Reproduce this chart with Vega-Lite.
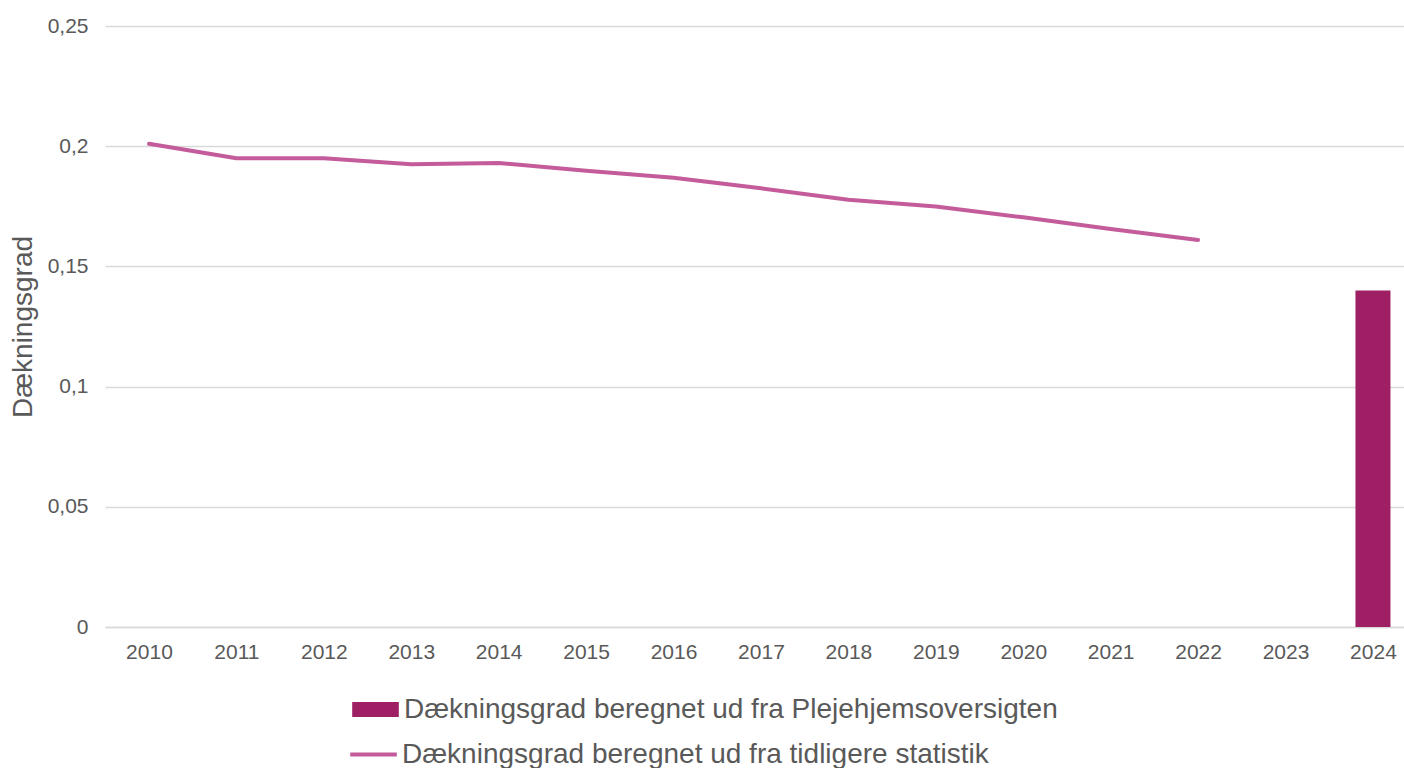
{
  "$schema": "https://vega.github.io/schema/vega-lite/v6.json",
  "autosize": {"type": "none"},
  "width": 1299,
  "height": 601,
  "padding": {"left": 105, "top": 26, "right": 0, "bottom": 141},
  "background": "white",
  "config": {
    "view": {"stroke": null},
    "font": "Liberation Sans",
    "text": {"font": "Liberation Sans"}
  },
  "datasets": {
    "bars": [
      {"year": 2024, "value": 0.14, "serie": "Dækningsgrad beregnet ud fra Plejehjemsoversigten"}
    ],
    "line": [
      {"year": 2010, "value": 0.201, "serie": "Dækningsgrad beregnet ud fra tidligere statistik"},
      {"year": 2011, "value": 0.195, "serie": "Dækningsgrad beregnet ud fra tidligere statistik"},
      {"year": 2012, "value": 0.195, "serie": "Dækningsgrad beregnet ud fra tidligere statistik"},
      {"year": 2013, "value": 0.1925, "serie": "Dækningsgrad beregnet ud fra tidligere statistik"},
      {"year": 2014, "value": 0.193, "serie": "Dækningsgrad beregnet ud fra tidligere statistik"},
      {"year": 2015, "value": 0.1898, "serie": "Dækningsgrad beregnet ud fra tidligere statistik"},
      {"year": 2016, "value": 0.1869, "serie": "Dækningsgrad beregnet ud fra tidligere statistik"},
      {"year": 2017, "value": 0.1825, "serie": "Dækningsgrad beregnet ud fra tidligere statistik"},
      {"year": 2018, "value": 0.1777, "serie": "Dækningsgrad beregnet ud fra tidligere statistik"},
      {"year": 2019, "value": 0.1749, "serie": "Dækningsgrad beregnet ud fra tidligere statistik"},
      {"year": 2020, "value": 0.1704, "serie": "Dækningsgrad beregnet ud fra tidligere statistik"},
      {"year": 2021, "value": 0.1656, "serie": "Dækningsgrad beregnet ud fra tidligere statistik"},
      {"year": 2022, "value": 0.161, "serie": "Dækningsgrad beregnet ud fra tidligere statistik"}
    ]
  },
  "encoding": {
    "x": {
      "field": "year",
      "type": "quantitative",
      "scale": {"domain": [2009.497, 2024.355], "nice": false, "zero": false, "padding": 0},
      "axis": {
        "values": [2010, 2011, 2012, 2013, 2014, 2015, 2016, 2017, 2018, 2019, 2020, 2021, 2022, 2023, 2024],
        "format": "d",
        "title": null,
        "grid": false,
        "ticks": false,
        "domain": true,
        "domainColor": "#d9d9d9",
        "domainWidth": 1.5,
        "labelFontSize": 21,
        "labelColor": "#595959",
        "labelPadding": 14,
        "labelFlush": false
      }
    },
    "y": {
      "field": "value",
      "type": "quantitative",
      "scale": {"domain": [0, 0.25], "nice": false},
      "axis": {
        "values": [0, 0.05, 0.1, 0.15, 0.2, 0.25],
        "labelExpr": "replace(format(datum.value, '.2~f'), '.', ',')",
        "title": "Dækningsgrad",
        "titleFontSize": 28,
        "titleFontWeight": "normal",
        "titleColor": "#595959",
        "titleX": -82,
        "titleY": 300.5,
        "titleAngle": -90,
        "titleAlign": "center",
        "titleBaseline": "middle",
        "grid": true,
        "gridColor": "#d9d9d9",
        "gridWidth": 1.5,
        "domain": false,
        "ticks": false,
        "labelFontSize": 21,
        "labelColor": "#595959",
        "labelPadding": 17
      }
    }
  },
  "layer": [
    {
      "data": {"name": "bars"},
      "mark": {"type": "bar", "size": 35},
      "encoding": {
        "fill": {
          "field": "serie",
          "type": "nominal",
          "scale": {"domain": ["Dækningsgrad beregnet ud fra Plejehjemsoversigten"], "range": ["#9e1f63"]},
          "legend": {
            "title": null,
            "orient": "none",
            "legendX": 247,
            "legendY": 660,
            "symbolType": "M-1,-0.32L1,-0.32L1,0.32L-1,0.32Z",
            "symbolSize": 2172,
            "symbolStrokeWidth": 0,
            "labelFontSize": 28,
            "labelColor": "#595959",
            "labelOffset": 5,
            "labelLimit": 1000
          }
        }
      }
    },
    {
      "data": {"name": "line"},
      "mark": {"type": "line", "strokeWidth": 4, "strokeCap": "round", "strokeJoin": "round"},
      "encoding": {
        "stroke": {
          "field": "serie",
          "type": "nominal",
          "scale": {"domain": ["Dækningsgrad beregnet ud fra tidligere statistik"], "range": ["#c45c9c"]},
          "legend": {
            "title": null,
            "orient": "none",
            "legendX": 243,
            "legendY": 703,
            "symbolType": "stroke",
            "symbolSize": 2172,
            "symbolStrokeWidth": 4,
            "labelFontSize": 28,
            "labelColor": "#595959",
            "labelOffset": 3,
            "labelLimit": 1000
          }
        }
      }
    }
  ]
}
